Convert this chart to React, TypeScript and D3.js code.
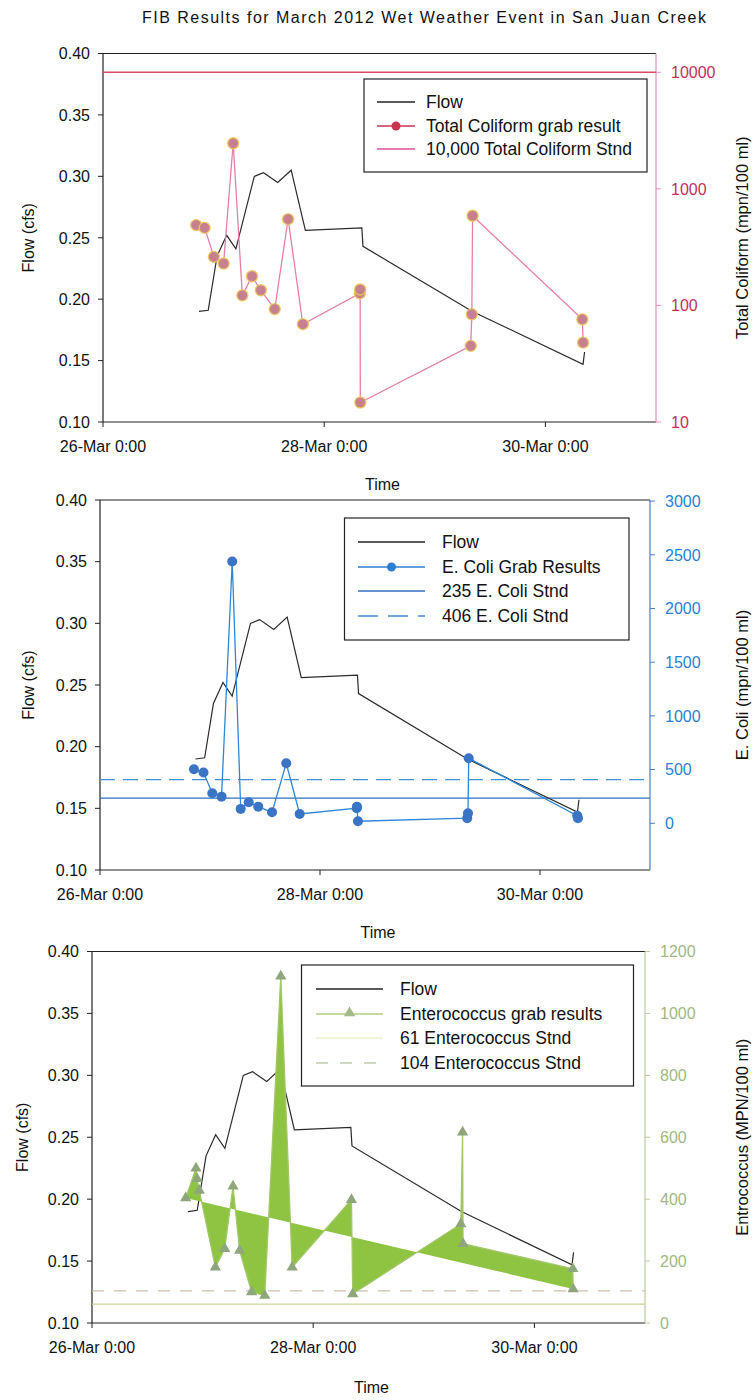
import React from "react";
import * as d3 from "d3";

const FONT = "'Liberation Sans', Arial, Helvetica, sans-serif";
const parseT = d3.timeParse("%Y-%m-%d %H:%M");

// ---------- shared axis data ----------
const xDomainTimes = ["2012-03-26 00:00", "2012-03-31 00:00"];
const xTickTimes = ["2012-03-26 00:00", "2012-03-28 00:00", "2012-03-30 00:00"];
const xTickLabels = ["26-Mar 0:00", "28-Mar 0:00", "30-Mar 0:00"];
const flowTicks = [0.1, 0.15, 0.2, 0.25, 0.3, 0.35, 0.4];

// ---------- flow ----------
const flowTimes = [
  "2012-03-26 20:50", "2012-03-26 22:50", "2012-03-27 00:45", "2012-03-27 02:50",
  "2012-03-27 04:50", "2012-03-27 08:50", "2012-03-27 10:50", "2012-03-27 13:55",
  "2012-03-27 16:50", "2012-03-27 19:55", "2012-03-28 08:10", "2012-03-28 08:25",
  "2012-03-29 08:10", "2012-03-30 08:10", "2012-03-30 08:30",
];
const flowValues = [0.19, 0.191, 0.235, 0.252, 0.241, 0.3, 0.303, 0.295, 0.305, 0.256, 0.258, 0.243, 0.19, 0.147, 0.157];

// ---------- total coliform ----------
const coliformTimes = [
  "2012-03-26 20:13", "2012-03-26 22:03", "2012-03-27 00:04", "2012-03-27 02:10",
  "2012-03-27 04:15", "2012-03-27 06:14", "2012-03-27 08:20", "2012-03-27 10:15",
  "2012-03-27 13:16", "2012-03-27 16:10", "2012-03-27 19:22", "2012-03-28 07:44",
  "2012-03-28 07:48", "2012-03-28 07:50", "2012-03-29 07:48", "2012-03-29 08:02",
  "2012-03-29 08:12", "2012-03-30 08:01", "2012-03-30 08:11",
];
const coliformValues = [489, 463, 261, 229, 2460, 122, 178, 135, 93, 550, 69, 127, 137, 14.7, 45, 84, 588, 76, 48];
const coliformTicks = [10, 100, 1000, 10000];
const coliformStd = 10000;
const coliformDomain = [10, 14500];

// ---------- E. coli ----------
const ecoliTimes = [
  "2012-03-26 20:30", "2012-03-26 22:35", "2012-03-27 00:30", "2012-03-27 02:31",
  "2012-03-27 04:51", "2012-03-27 06:42", "2012-03-27 08:27", "2012-03-27 10:32",
  "2012-03-27 13:32", "2012-03-27 16:38", "2012-03-27 19:34", "2012-03-28 08:01",
  "2012-03-28 08:04", "2012-03-28 08:17", "2012-03-29 08:07", "2012-03-29 08:17",
  "2012-03-29 08:27", "2012-03-30 08:07", "2012-03-30 08:17",
];
const ecoliValues = [503, 472, 280, 248, 2438, 134, 196, 155, 102, 559, 87, 140, 155, 19, 47, 93, 606, 71, 47];
const ecoliTicks = [0, 500, 1000, 1500, 2000, 2500, 3000];
const ecoliStds = [235, 406];
const ecoliDomain = [-435, 3010];

// ---------- Enterococcus ----------
const enteroTimes = [
  "2012-03-26 20:20", "2012-03-26 22:34", "2012-03-26 22:48", "2012-03-26 23:17",
  "2012-03-27 02:46", "2012-03-27 04:48", "2012-03-27 06:36", "2012-03-27 08:02",
  "2012-03-27 10:38", "2012-03-27 13:29", "2012-03-27 16:58", "2012-03-27 19:26",
  "2012-03-28 08:18", "2012-03-28 08:35", "2012-03-29 08:02", "2012-03-29 08:25",
  "2012-03-29 08:31", "2012-03-30 08:20", "2012-03-30 08:24",
];
const enteroValues = [404, 500, 466, 428, 180, 240, 442, 234, 100, 89, 1120, 180, 398, 94, 320, 616, 256, 175, 110];
const enteroTicks = [0, 200, 400, 600, 800, 1000, 1200];
const enteroStds = [61, 104];
const enteroDomain = [0, 1200];

type Box = { left: number; right: number; top: number; bottom: number };

const topBox: Box = { left: 103, right: 656, top: 53.5, bottom: 422 };
const midBox: Box = { left: 100, right: 650, top: 500, bottom: 870 };
const botBox: Box = { left: 92, right: 645, top: 951.5, bottom: 1323 };

function makeX(box: Box) {
  return d3.scaleTime().domain(xDomainTimes.map((s) => parseT(s) as Date)).range([box.left, box.right]);
}
function makeYFlow(box: Box) {
  return d3.scaleLinear().domain([0.1, 0.4]).range([box.bottom, box.top]);
}

function Frame(props: {
  box: Box;
  yR: (v: number) => number;
  rightTicks: number[];
  rightFmt: (v: number) => string;
  rightAxisColor: string;
  rightLabelColor: string;
  rightTitle: string;
  leftTitleX: number;
  timeY: number;
}) {
  const { box, yR, rightTicks, rightFmt, rightAxisColor, rightLabelColor, rightTitle, leftTitleX, timeY } = props;
  const x = makeX(box);
  const y = makeYFlow(box);
  const midY = (box.top + box.bottom) / 2;
  return (
    <g fontFamily={FONT}>
      <line x1={box.left} x2={box.right} y1={box.top} y2={box.top} stroke="#222" strokeWidth={1.2} />
      <line x1={box.left} x2={box.left} y1={box.top} y2={box.bottom} stroke="#222" strokeWidth={1.2} />
      <line x1={box.left} x2={box.right} y1={box.bottom} y2={box.bottom} stroke="#222" strokeWidth={1.2} />
      <line x1={box.right} x2={box.right} y1={box.top} y2={box.bottom} stroke={rightAxisColor} strokeWidth={1.2} />
      {flowTicks.map((v) => (
        <g key={"l" + v}>
          <line x1={box.left - 5} x2={box.left} y1={y(v)} y2={y(v)} stroke="#222" />
          <text x={box.left - 13} y={y(v)} dy="0.36em" textAnchor="end" fontSize={16} fill="#111">
            {d3.format(".2f")(v)}
          </text>
        </g>
      ))}
      {xTickTimes.map((s, i) => {
        const px = x(parseT(s) as Date);
        return (
          <g key={"x" + s}>
            <line x1={px} x2={px} y1={box.bottom} y2={box.bottom + 5} stroke="#222" />
            <text x={px} y={box.bottom + 30} textAnchor="middle" fontSize={16} fill="#111">
              {xTickLabels[i]}
            </text>
          </g>
        );
      })}
      {rightTicks.map((v) => (
        <g key={"r" + v}>
          <line x1={box.right} x2={box.right + 5} y1={yR(v)} y2={yR(v)} stroke={rightAxisColor} />
          <text x={box.right + 15} y={yR(v)} dy="0.36em" textAnchor="start" fontSize={16} fill={rightLabelColor}>
            {rightFmt(v)}
          </text>
        </g>
      ))}
      <text
        transform={`translate(${leftTitleX},${midY}) rotate(-90)`}
        textAnchor="middle"
        dy="0.36em"
        fontSize={16}
        fill="#111"
      >
        Flow (cfs)
      </text>
      <text
        transform={`translate(742,${midY}) rotate(-90)`}
        textAnchor="middle"
        dy="0.36em"
        fontSize={16.5}
        fill="#111"
      >
        {rightTitle}
      </text>
      <text x={(box.left + box.right) / 2 + 3} y={timeY} textAnchor="middle" fontSize={16} fill="#111">
        Time
      </text>
    </g>
  );
}

function FlowLine({ box }: { box: Box }) {
  const x = makeX(box);
  const y = makeYFlow(box);
  const pts = flowTimes.map((s, i) => [x(parseT(s) as Date), y(flowValues[i])] as [number, number]);
  return <path d={d3.line()(pts) || ""} fill="none" stroke="#2a2a2a" strokeWidth={1.2} />;
}

function Legend(props: {
  x0: number; y0: number; x1: number; y1: number;
  rows: { y: number; label: string; el: React.ReactNode }[];
  textX: number;
}) {
  const { x0, y0, x1, y1, rows, textX } = props;
  return (
    <g fontFamily={FONT}>
      <rect x={x0} y={y0} width={x1 - x0} height={y1 - y0} fill="#fff" stroke="#222" strokeWidth={1.2} />
      {rows.map((r) => (
        <g key={r.label}>
          {r.el}
          <text x={textX} y={r.y} dy="0.36em" fontSize={17.5} fill="#111">
            {r.label}
          </text>
        </g>
      ))}
    </g>
  );
}

function TopPanel() {
  const box = topBox;
  const x = makeX(box);
  const yR = d3.scaleLog().domain(coliformDomain).range([box.bottom, box.top]);
  const pts = coliformTimes.map((s, i) => [x(parseT(s) as Date), yR(coliformValues[i])] as [number, number]);
  const sx0 = 377, sx1 = 415;
  return (
    <g>
      <Frame
        box={box}
        yR={yR}
        rightTicks={coliformTicks}
        rightFmt={(v) => String(v)}
        rightAxisColor="#e98cc0"
        rightLabelColor="#c2305c"
        rightTitle="Total Coliform (mpn/100 ml)"
        leftTitleX={28}
        timeY={490}
      />
      <line x1={box.left} x2={box.right} y1={yR(coliformStd)} y2={yR(coliformStd)} stroke="#d84a66" strokeWidth={1.6} />
      <FlowLine box={box} />
      <path d={d3.line()(pts) || ""} fill="none" stroke="#e57fa8" strokeWidth={1.3} />
      {pts.map((p, i) => (
        <circle key={i} cx={p[0]} cy={p[1]} r={5.5} fill="#c6808f" stroke="#edc45c" strokeWidth={1.4} strokeOpacity={0.85} />
      ))}
      <Legend
        x0={364} y0={79} x1={647} y1={172} textX={426}
        rows={[
          { y: 102, label: "Flow", el: <line x1={sx0} x2={sx1} y1={102} y2={102} stroke="#222" strokeWidth={1.3} /> },
          {
            y: 126, label: "Total Coliform grab result",
            el: (
              <g>
                <line x1={sx0} x2={sx1} y1={126} y2={126} stroke="#c8344f" strokeWidth={1.3} />
                <circle cx={(sx0 + sx1) / 2} cy={126} r={4.5} fill="#c8344f" />
              </g>
            ),
          },
          { y: 149, label: "10,000 Total Coliform Stnd", el: <line x1={sx0} x2={sx1} y1={149} y2={149} stroke="#e0509c" strokeWidth={1.3} /> },
        ]}
      />
    </g>
  );
}

function MidPanel() {
  const box = midBox;
  const x = makeX(box);
  const yR = d3.scaleLinear().domain(ecoliDomain).range([box.bottom, box.top]);
  const pts = ecoliTimes.map((s, i) => [x(parseT(s) as Date), yR(ecoliValues[i])] as [number, number]);
  const sx0 = 358, sx1 = 425;
  return (
    <g>
      <Frame
        box={box}
        yR={yR}
        rightTicks={ecoliTicks}
        rightFmt={(v) => String(v)}
        rightAxisColor="#4a7cc8"
        rightLabelColor="#2a7fd4"
        rightTitle="E. Coli (mpn/100 ml)"
        leftTitleX={28}
        timeY={938}
      />
      <line x1={box.left} x2={box.right} y1={yR(ecoliStds[0])} y2={yR(ecoliStds[0])} stroke="#2f6fbf" strokeWidth={1.3} />
      <line x1={box.left} x2={box.right} y1={yR(ecoliStds[1])} y2={yR(ecoliStds[1])} stroke="#3f8fd6" strokeWidth={1.3} strokeDasharray="15,8" />
      <FlowLine box={box} />
      <path d={d3.line()(pts) || ""} fill="none" stroke="#2f86d6" strokeWidth={1.3} />
      {pts.map((p, i) => (
        <circle key={i} cx={p[0]} cy={p[1]} r={5} fill="#3a74c4" />
      ))}
      <Legend
        x0={344.5} y0={518} x1={629} y1={640} textX={442}
        rows={[
          { y: 542, label: "Flow", el: <line x1={sx0} x2={sx1} y1={542} y2={542} stroke="#222" strokeWidth={1.3} /> },
          {
            y: 567, label: "E. Coli Grab Results",
            el: (
              <g>
                <line x1={sx0} x2={sx1} y1={567} y2={567} stroke="#2e7fd0" strokeWidth={1.3} />
                <circle cx={(sx0 + sx1) / 2} cy={567} r={4.5} fill="#2e7fd0" />
              </g>
            ),
          },
          { y: 591, label: "235 E. Coli Stnd", el: <line x1={sx0} x2={sx1} y1={591} y2={591} stroke="#2f6fbf" strokeWidth={1.3} /> },
          { y: 616, label: "406 E. Coli Stnd", el: <line x1={sx0} x2={sx1} y1={616} y2={616} stroke="#3f8fd6" strokeWidth={1.3} strokeDasharray="20,10" /> },
        ]}
      />
    </g>
  );
}

function BotPanel() {
  const box = botBox;
  const x = makeX(box);
  const yR = d3.scaleLinear().domain(enteroDomain).range([box.bottom, box.top]);
  const pts = enteroTimes.map((s, i) => [x(parseT(s) as Date), yR(enteroValues[i])] as [number, number]);
  const tri = d3.symbol().type(d3.symbolTriangle).size(55)() || "";
  const sx0 = 316, sx1 = 383;
  return (
    <g>
      <Frame
        box={box}
        yR={yR}
        rightTicks={enteroTicks}
        rightFmt={(v) => String(v)}
        rightAxisColor="#b9c8a2"
        rightLabelColor="#9fb884"
        rightTitle="Entrococcus (MPN/100 ml)"
        leftTitleX={22}
        timeY={1393}
      />
      <line x1={box.left} x2={box.right} y1={yR(enteroStds[0])} y2={yR(enteroStds[0])} stroke="#c9d69a" strokeWidth={1.3} />
      <line x1={box.left} x2={box.right} y1={yR(enteroStds[1])} y2={yR(enteroStds[1])} stroke="#cdbfae" strokeWidth={1.3} strokeDasharray="12,10" />
      <FlowLine box={box} />
      <path d={(d3.line()(pts) || "") + "Z"} fill="#8fc443" stroke="none" />
      <path d={d3.line()(pts) || ""} fill="none" stroke="#a3c66a" strokeWidth={1.3} />
      {pts.map((p, i) => (
        <path key={i} d={tri} transform={`translate(${p[0]},${p[1]})`} fill="#8fa67c" />
      ))}
      <Legend
        x0={301.5} y0={965} x1={633.5} y1={1086} textX={400}
        rows={[
          { y: 989, label: "Flow", el: <line x1={sx0} x2={sx1} y1={989} y2={989} stroke="#222" strokeWidth={1.3} /> },
          {
            y: 1014, label: "Enterococcus grab results",
            el: (
              <g>
                <line x1={sx0} x2={sx1} y1={1014} y2={1014} stroke="#b2cc86" strokeWidth={1.6} />
                <path d={tri} transform={`translate(${(sx0 + sx1) / 2},${1013})`} fill="#a3bb8a" />
              </g>
            ),
          },
          { y: 1038, label: "61 Enterococcus Stnd", el: <line x1={sx0} x2={sx1} y1={1038} y2={1038} stroke="#eef2cc" strokeWidth={1.3} /> },
          { y: 1063, label: "104 Enterococcus Stnd", el: <line x1={sx0} x2={sx1} y1={1063} y2={1063} stroke="#c0cbb0" strokeWidth={1.3} strokeDasharray="12,12" /> },
        ]}
      />
    </g>
  );
}

export default function App() {
  return (
    <svg
      width={754}
      height={1400}
      viewBox="0 0 754 1400"
      style={{ position: "absolute", left: 0, top: 0, background: "#fff" }}
    >
      <rect x={0} y={0} width={754} height={1400} fill="#fff" />
      <text
        x={142}
        y={23}
        textAnchor="start"
        fontFamily={FONT}
        fontSize={16}
        textLength={564}
        lengthAdjust="spacing"
        fill="#111"
      >
        FIB Results for March 2012 Wet Weather Event in San Juan Creek
      </text>
      <TopPanel />
      <MidPanel />
      <BotPanel />
    </svg>
  );
}
